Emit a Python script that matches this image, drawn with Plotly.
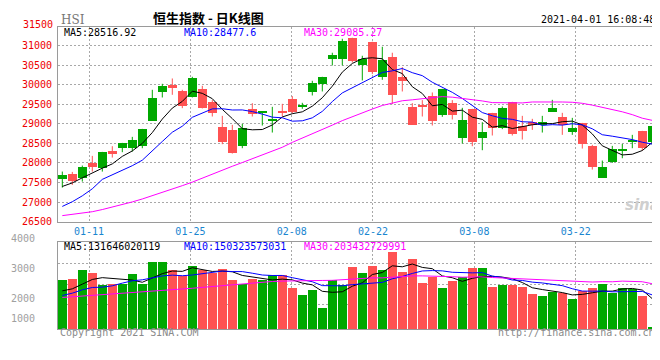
import plotly.graph_objects as go

# ---------------- data ----------------
dates = [
    "2021-01-06", "2021-01-07", "2021-01-08", "2021-01-11", "2021-01-12", "2021-01-13", "2021-01-14", "2021-01-15",
    "2021-01-18", "2021-01-19", "2021-01-20", "2021-01-21", "2021-01-22", "2021-01-25", "2021-01-26", "2021-01-27",
    "2021-01-28", "2021-01-29", "2021-02-01", "2021-02-02", "2021-02-03", "2021-02-04", "2021-02-05", "2021-02-08",
    "2021-02-09", "2021-02-10", "2021-02-11", "2021-02-16", "2021-02-17", "2021-02-18", "2021-02-19", "2021-02-22",
    "2021-02-23", "2021-02-24", "2021-02-25", "2021-02-26", "2021-03-01", "2021-03-02", "2021-03-03", "2021-03-04",
    "2021-03-05", "2021-03-08", "2021-03-09", "2021-03-10", "2021-03-11", "2021-03-12", "2021-03-15", "2021-03-16",
    "2021-03-17", "2021-03-18", "2021-03-19", "2021-03-22", "2021-03-23", "2021-03-24", "2021-03-25", "2021-03-26",
    "2021-03-29", "2021-03-30", "2021-03-31", "2021-04-01",
]
opens = [27592, 27720, 27626, 28001, 27882, 28316, 28393, 28393, 28444, 29083,
         29799, 29978, 29824, 29671, 29892, 29560, 28921, 28844, 28444, 29381,
         29279, 29074, 29305, 29637, 29441, 29799, 30003, 30659, 30642, 31196,
         30489, 31094, 30182, 30710, 30199, 29432, 29458, 29713, 29228, 29534,
         28648, 29381, 28648, 29279, 28887, 29560, 28955, 29040, 28972, 29313,
         29177, 28793, 29023, 28436, 27626, 28035, 28316, 28538, 28819, 28546]
highs = [27780, 27771, 27933, 28180, 28282, 28427, 28512, 28666, 28870, 29867,
         30020, 30156, 29867, 30199, 29969, 29603, 29202, 28972, 28998, 29526,
         29322, 29432, 29509, 29705, 29535, 30097, 30199, 30813, 31170, 31196,
         30736, 31094, 30966, 30813, 30446, 29526, 29603, 29799, 29892, 29603,
         29407, 29381, 29040, 29279, 29441, 29560, 29202, 29126, 29202, 29611,
         29279, 29151, 29023, 28461, 28061, 28436, 28487, 28717, 28819, 28947]
lows = [27370, 27439, 27524, 27779, 27779, 28137, 28274, 28291, 28376, 29083,
        29671, 29739, 29398, 29671, 29390, 29185, 28478, 28240, 28376, 29185,
        28955, 28776, 29185, 29270, 29381, 29722, 29824, 30489, 30489, 30565,
        30105, 30267, 30122, 29500, 29824, 28981, 29185, 28955, 29177, 29109,
        28495, 28427, 28325, 28700, 28862, 28700, 28597, 28844, 28776, 29313,
        28717, 28717, 28367, 27831, 27771, 28002, 28120, 28376, 28316, 28461]
closes = [27694, 27549, 27899, 27907, 28282, 28240, 28512, 28589, 28870, 29662,
          29969, 29909, 29441, 30174, 29390, 29287, 28546, 28265, 28887, 29245,
          29322, 29126, 29287, 29305, 29483, 30046, 30199, 30761, 31102, 30591,
          30659, 30310, 30634, 29722, 30080, 28981, 29441, 29074, 29892, 29228,
          29100, 28546, 28793, 28904, 29415, 28734, 28827, 28989, 29049, 29415,
          28981, 28904, 28495, 27907, 27899, 28359, 28359, 28589, 28376, 28947]
# turnover, in units of 1e8 HKD
volumes = [2224, 2316, 2687, 2579, 2039, 2085, 2085, 2501, 2069, 3057,
           3057, 2687, 2424, 2903, 2687, 2579, 2764, 2270, 2054, 2316,
           2224, 2455, 2455, 1884, 1576, 1807, 974, 2224, 2008, 2856,
           2579, 2903, 2687, 3551, 2625, 3227, 2116, 2394, 1884, 2208,
           2394, 2810, 2810, 1931, 2023, 2023, 1931, 1606, 1514, 1699,
           1653, 1390, 1730, 1884, 2069, 1668, 1884, 1853, 1514, 63]

# moving-average values before enough visible history exists
ma5_head = [27400, 27490, 27620, 27750]
ma10_head = [26890, 27010, 27160, 27340, 27580, 27690, 27820, 27930, 28070]
ma30_head = [26655, 26685, 26720, 26755, 26810, 26870, 26935, 27005, 27080, 27160,
             27245, 27330, 27420, 27510, 27615, 27720, 27820, 27915, 28010, 28105,
             28200, 28300, 28400, 28525, 28630, 28740, 28850, 28965, 29080]
vma5_head = [1761, 1853, 2069, 2285]
vma10_head = [1545, 1653, 1807, 1915, 1931, 1992, 2116, 2224, 2270]
vma30_head = [1454, 1485, 1515, 1545, 1576, 1607, 1638, 1669, 1700, 1730,
              1761, 1800, 1840, 1880, 1920, 1962, 1998, 2033, 2069, 2110,
              2150, 2193, 2210, 2225, 2239, 2240, 2240, 2245, 2270]

tick_labels = ["01-11", "01-25", "02-08", "02-22", "03-08", "03-22"]
price_ticks = [26500, 27000, 27500, 28000, 28500, 29000, 29500, 30000, 30500, 31000]
vol_axis_labels = ["4000", "3000", "2000", "1000"]

legend_price = ["MA5:28516.92", "MA10:28477.6", "MA30:29085.27"]
legend_vol = ["MA5:131646020119", "MA10:150323573031", "MA30:203432729991"]
title_text = "恒生指数 - 日K线图"
code_text = "HSI"
time_text = "2021-04-01 16:08:48"

# ---------------- helpers ----------------
def moving_avg(vals, n, head):
    out = list(head)
    for i in range(len(head), len(vals)):
        out.append(sum(vals[i - n + 1:i + 1]) / n)
    return out

RED = "#ff5252"
GREEN = "#00a800"
MA_COLORS = ["#000000", "#0000ff", "#ff00ff"]
MONO = "DejaVu Sans Mono, Liberation Mono, monospace"
FS = 10

W, H = 660, 360
ML, MR, MT, MB = 50, 10, 19, 39
PW, PH = W - ML - MR, H - MT - MB


def px(x, y):
    return (x - ML) / PW, (H - MB - y) / PH


idx = list(range(len(dates)))
up = [c >= o for o, c in zip(opens, closes)]
colors = [GREEN if u else RED for u in up]

fig = go.Figure()

# wicks
for col, flag in ((GREEN, True), (RED, False)):
    wx, wy = [], []
    for i in idx:
        if up[i] == flag:
            wx += [i, i, None]
            wy += [lows[i], highs[i], None]
    fig.add_trace(go.Scatter(x=wx, y=wy, mode="lines", line=dict(color=col, width=1),
                             hoverinfo="skip", showlegend=False, xaxis="x", yaxis="y"))

# bodies
bases = [min(o, c) for o, c in zip(opens, closes)]
heights = [max(abs(c - o), 22) for o, c in zip(opens, closes)]
fig.add_trace(go.Bar(x=idx, y=heights, base=bases, width=0.9,
                     marker=dict(color=colors, line=dict(width=0)),
                     showlegend=False, xaxis="x", yaxis="y"))

# price MAs
for vals, col in zip([moving_avg(closes, 5, ma5_head), moving_avg(closes, 10, ma10_head),
                      moving_avg(closes, 30, ma30_head)], MA_COLORS):
    fig.add_trace(go.Scatter(x=idx, y=vals, mode="lines", line=dict(color=col, width=1),
                             showlegend=False, xaxis="x", yaxis="y"))

# volume
fig.add_trace(go.Bar(x=idx, y=volumes, width=0.9,
                     marker=dict(color=colors, line=dict(width=0)),
                     showlegend=False, xaxis="x2", yaxis="y2"))
for vals, col in zip([moving_avg(volumes, 5, vma5_head), moving_avg(volumes, 10, vma10_head),
                      moving_avg(volumes, 30, vma30_head)], MA_COLORS):
    fig.add_trace(go.Scatter(x=idx, y=vals, mode="lines", line=dict(color=col, width=1),
                             showlegend=False, xaxis="x2", yaxis="y2"))

tick_idx = [dates.index("2021-" + t) for t in tick_labels]
tick_pos = [i * 1.014 - 0.37 for i in tick_idx]
xr = [-0.43, len(dates) - 0.43]

top_y0 = (H - MB - 213.7) / PH
vol_y1 = (H - MB - 234.3) / PH

grid = dict(showgrid=True, gridcolor="#a8a8a8", gridwidth=1, griddash="2px,2px")
border = dict(showline=True, linecolor="#9a9a9a", linewidth=1, mirror=True, zeroline=False)

fig.update_layout(
    width=W, height=H, margin=dict(l=ML, r=MR, t=MT, b=MB),
    paper_bgcolor="white", plot_bgcolor="white", barmode="overlay", bargap=0,
    xaxis=dict(domain=[0, 1], range=xr, anchor="y", tickmode="array", tickvals=tick_pos,
               ticktext=tick_labels, ticks="", tickfont=dict(family=MONO, size=FS, color="#1a86d0"),
               **grid, **border),
    yaxis=dict(domain=[top_y0, 1], range=[26500, 31470], tickmode="array", tickvals=price_ticks,
               ticktext=[str(v) for v in price_ticks], ticks="", ticklabelstandoff=3,
               tickfont=dict(family=MONO, size=FS, color="#ee0000"), **grid, **border),
    xaxis2=dict(domain=[0, 1], range=xr, anchor="y2", tickmode="array", tickvals=tick_pos,
                showticklabels=False, ticks="", **grid, **border),
    yaxis2=dict(domain=[0, vol_y1], range=[0, 4000], tickmode="array", tickvals=[1150, 2075, 3000],
                showticklabels=False, ticks="", **grid, **border),
)

ann = []


def add_text(x, y, text, color="#000", size=FS, xanchor="left", family=MONO, **kw):
    xp, yp = px(x, y)
    ann.append(dict(x=xp, y=yp, xref="paper", yref="paper", text=text, showarrow=False,
                    xanchor=xanchor, yanchor="middle", font=dict(family=family, size=size, color=color),
                    **kw))


add_text(51, 12, code_text, color="#777777", size=12, family="DejaVu Serif, serif")
add_text(200, 9.5, "<b>" + title_text + "</b>", size=13, xanchor="center",
         family="Noto Sans CJK SC, sans-serif")
add_text(649, 12, time_text, xanchor="right")
add_text(47, 16.5, "31500", color="#ee0000", xanchor="right")
for x, t, c in zip([54, 174, 294], legend_price, MA_COLORS):
    add_text(x, 25, t, color=c)
for x, t, c in zip([54, 174, 294], legend_vol, MA_COLORS):
    add_text(x, 238.5, t, color=c)
for y, t in zip([230.7, 260.7, 290, 310], vol_axis_labels):
    add_text(29, y, t, color="#a0a0a0", xanchor="right")
add_text(50, 324.5, "Copyright 2021 SINA.COM", color="#8a8a8a")
add_text(649, 324.5, "http://finance.sina.com.cn", color="#8a8a8a", xanchor="right")
add_text(634, 197, "<b><i>sina</i></b>", color="#cfcfcf", size=15, xanchor="center",
         family="DejaVu Sans, sans-serif")

fig.update_layout(annotations=ann)
fig.write_html("out.html")
